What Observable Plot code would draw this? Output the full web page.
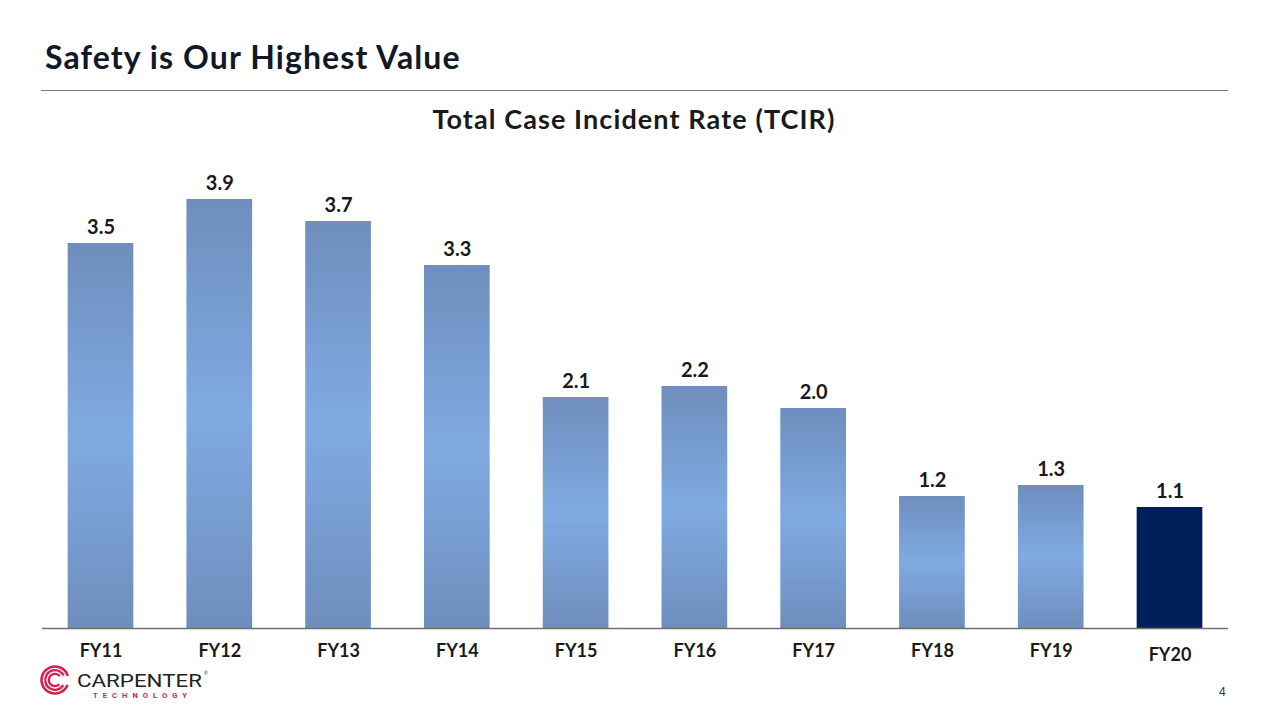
<!DOCTYPE html>
<html>
<head>
<meta charset="utf-8">
<script src="https://cdn.jsdelivr.net/npm/d3@7"></script>
<script src="https://cdn.jsdelivr.net/npm/@observablehq/plot@0.6"></script>
<style>
  html, body { margin: 0; padding: 0; background: #fff; }
  #page { position: relative; width: 1280px; height: 720px; overflow: hidden; font-family: Lato, "Open Sans", sans-serif; }
  #title { position: absolute; left: 45px; top: 41px; font-size: 32px; letter-spacing: 1.1px; font-weight: 700; color: #111827; line-height: 1; white-space: nowrap; }
  #rule { position: absolute; left: 41px; top: 90px; width: 1187px; height: 0; border-top: 1.5px solid #7a7a7a; }
  #subtitle { position: absolute; left: 0; width: 1268px; top: 105px; text-align: center; font-size: 27px; letter-spacing: 1.1px; font-weight: 700; color: #1a1a1a; line-height: 1; }
  #chart { position: absolute; left: 0; top: 140px; }
  #pagenum { position: absolute; left: 1219px; top: 685px; font-size: 12px; color: #333; font-family: Arial, "Liberation Sans", sans-serif; }
  #logo { position: absolute; left: 38px; top: 664px; }
</style>
</head>
<body>
<div id="page">
  <div id="title">Safety is Our Highest Value</div>
  <div id="rule"></div>
  <div id="subtitle">Total Case Incident Rate (TCIR)</div>
  <div id="chart"></div>
  <div id="pagenum">4</div>
  <svg id="logo" width="190" height="44" viewBox="0 0 190 44">
    <g fill="none" stroke="#d6204f">
      <circle cx="17" cy="16" r="13.5" stroke-width="2.6" stroke-dasharray="75 9.8" transform="rotate(22 17 16)"/>
      <circle cx="17" cy="16" r="9.8" stroke-width="2.3" stroke-dasharray="51 10.6" transform="rotate(32 17 16)"/>
      <circle cx="17" cy="16" r="6.2" stroke-width="2.3" stroke-dasharray="29 10" transform="rotate(45 17 16)"/>
    </g>
    <text x="39" y="23" font-family="Roboto, Arial, sans-serif" font-size="19" fill="#222" textLength="125" lengthAdjust="spacingAndGlyphs">CARPENTER</text>
    <text x="166" y="11" font-family="Arial, sans-serif" font-size="5" fill="#222">®</text>
    <text x="55" y="34" font-family="Roboto, Arial, sans-serif" font-size="7.5" font-weight="700" fill="#d6204f" textLength="94" lengthAdjust="spacing">TECHNOLOGY</text>
  </svg>
</div>
<script>
const categories = ["FY11", "FY12", "FY13", "FY14", "FY15", "FY16", "FY17", "FY18", "FY19", "FY20"];
const tcir = [3.5, 3.9, 3.7, 3.3, 2.1, 2.2, 2.0, 1.2, 1.3, 1.1];
const highlighted = ["FY20"];

const data = categories.map((c, i) => ({ year: c, value: tcir[i] }));
const normal = data.filter(d => !highlighted.includes(d.year));
const hi = data.filter(d => highlighted.includes(d.year));

const chart = Plot.plot({
  width: 1280,
  height: 540,
  marginLeft: 42,
  marginRight: 52,
  marginTop: 4,
  marginBottom: 52,
  style: { fontFamily: "Lato, 'Open Sans', sans-serif", background: "transparent" },
  x: { domain: categories, paddingInner: 0.447, paddingOuter: 0.216, round: false, label: null },
  y: { domain: [0, 4.4], axis: null },
  marks: [
    Plot.barY(normal, { x: "year", y: "value", fill: "url(#barGrad)" }),
    Plot.barY(hi, { x: "year", y: "value", fill: "#00205b" }),
    Plot.ruleY([0], { stroke: "#6f6f6f", strokeWidth: 1.5 }),
    Plot.text(data, { x: "year", y: "value", text: d => d.value.toFixed(1), dy: -16, fontSize: 20, fontWeight: 700, fill: "#1a1a1a" }),
    Plot.axisX({ ticks: categories.filter(c => !highlighted.includes(c)), tickSize: 0, tickPadding: 16, fontSize: 18, fontWeight: 700, color: "#1a1a1a", label: null }),
    Plot.axisX({ ticks: highlighted, tickSize: 0, tickPadding: 20, fontSize: 18, fontWeight: 700, color: "#1a1a1a", label: null })
  ]
});

const defs = d3.select(chart).insert("defs", ":first-child");
const g = defs.append("linearGradient").attr("id", "barGrad").attr("x1", 0).attr("y1", 0).attr("x2", 0).attr("y2", 1);
g.append("stop").attr("offset", "0%").attr("stop-color", "#6e8ebd");
g.append("stop").attr("offset", "50%").attr("stop-color", "#80aae2");
g.append("stop").attr("offset", "100%").attr("stop-color", "#6e8ebd");

document.getElementById("chart").appendChild(chart);
</script>
</body>
</html>
